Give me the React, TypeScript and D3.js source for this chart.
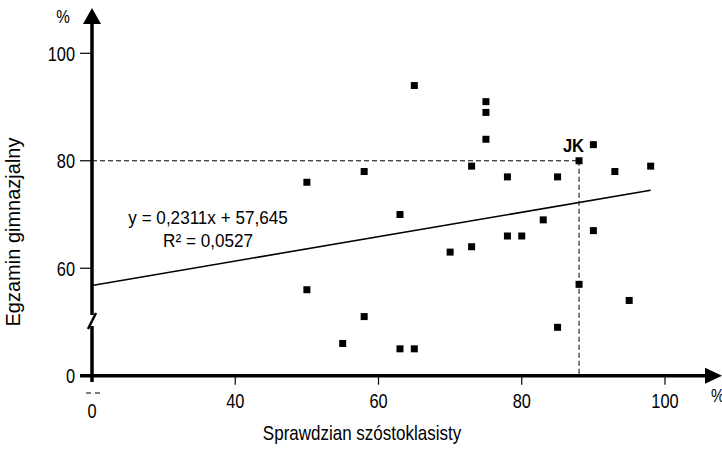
import { useEffect, useRef } from 'react';
import * as d3 from 'd3';

// scores of each student: sprawdzian (x) vs egzamin (y), in %
const sprawdzian = [50, 50, 55, 58, 58, 63, 63, 65, 65, 70, 73, 73, 75, 75, 75, 78, 78, 80, 83, 85, 85, 88, 88, 90, 90, 93, 95, 98];
const egzamin = [76, 56, 46, 78, 51, 70, 45, 45, 94, 63, 64, 79, 91, 89, 84, 77, 66, 66, 69, 77, 49, 80, 57, 83, 67, 78, 54, 79];

// broken axes: lowest value is labelled "0"
const xTicks = [20, 40, 60, 80, 100];
const xTickLabels = ['0', '40', '60', '80', '100'];
const yTicks = [40, 60, 80, 100];
const yTickLabels = ['0', '60', '80', '100'];

// trend line ends as drawn
const trendX = [20, 98];
const trendY = [56.8, 74.5];
const trendText = ['y = 0,2311x + 57,645', 'R² = 0,0527'];

// highlighted student
const jk = { name: 'JK', x: 88, y: 80 };

const FONT = '"Liberation Sans", Arial, sans-serif';

const useD3 = (renderChartFn: (svg: any) => void, deps: any[]) => {
  const ref = useRef<SVGSVGElement>(null);
  useEffect(() => {
    renderChartFn(d3.select(ref.current));
  }, deps);
  return ref;
};

function Scatter() {
  const ref = useD3((svg) => {
    svg.selectAll('*').remove();
    const x = d3.scaleLinear().domain([20, 100]).range([92, 665]);
    const y = d3.scaleLinear().domain([40, 100]).range([375.7, 53.3]);
    const x0 = x(20), y0 = y(40);

    const g = svg.append('g').style('font-family', FONT);

    // condensed text, the original uses a narrow face
    const label = (px: number, py: number, txt: string, size: number, sx: number, anchor = 'start') =>
      g.append('text')
        .attr('transform', `translate(${px},${py}) scale(${sx},1)`)
        .attr('text-anchor', anchor)
        .style('font-size', size + 'px')
        .text(txt);

    // dashed guides to JK
    g.append('line')
      .attr('x1', x0).attr('x2', x(jk.x))
      .attr('y1', y(jk.y)).attr('y2', y(jk.y))
      .attr('stroke', '#000').attr('stroke-width', 1).attr('stroke-dasharray', '5,3');
    g.append('line')
      .attr('x1', x(jk.x)).attr('x2', x(jk.x))
      .attr('y1', y(jk.y)).attr('y2', y0)
      .attr('stroke', '#000').attr('stroke-width', 1).attr('stroke-dasharray', '5,3');

    // trend line
    g.append('line')
      .attr('x1', x(trendX[0])).attr('y1', y(trendY[0]))
      .attr('x2', x(trendX[1])).attr('y2', y(trendY[1]))
      .attr('stroke', '#000').attr('stroke-width', 1.6);

    // points
    g.selectAll('rect.pt')
      .data(sprawdzian.map((v, i) => [v, egzamin[i]]))
      .join('rect')
      .attr('class', 'pt')
      .attr('x', (d: number[]) => x(d[0]) - 3.5)
      .attr('y', (d: number[]) => y(d[1]) - 3.5)
      .attr('width', 7).attr('height', 7)
      .attr('fill', '#000');

    // y axis with break
    g.append('line').attr('x1', x0).attr('x2', x0).attr('y1', 20).attr('y2', 315)
      .attr('stroke', '#000').attr('stroke-width', 3.5);
    g.append('line').attr('x1', x0).attr('x2', x0).attr('y1', 326).attr('y2', 382)
      .attr('stroke', '#000').attr('stroke-width', 3.5);
    g.append('line').attr('x1', x0 - 4).attr('x2', x0 + 4).attr('y1', 329).attr('y2', 313)
      .attr('stroke', '#000').attr('stroke-width', 2.5);
    g.append('path').attr('d', `M${x0},8L${x0 - 9},24L${x0 + 9},24Z`).attr('fill', '#000');

    // x axis
    g.append('line').attr('x1', 80).attr('x2', 712).attr('y1', y0).attr('y2', y0)
      .attr('stroke', '#000').attr('stroke-width', 3.5);
    g.append('path').attr('d', `M722,${y0}L705,${y0 - 8}L705,${y0 + 8}Z`).attr('fill', '#000');
    // x break marks under 0
    g.append('line').attr('x1', x0 - 6).attr('x2', x0 - 1).attr('y1', 393).attr('y2', 393)
      .attr('stroke', '#000').attr('stroke-width', 1);
    g.append('line').attr('x1', x0 + 3).attr('x2', x0 + 8).attr('y1', 393).attr('y2', 393)
      .attr('stroke', '#000').attr('stroke-width', 1);

    // y ticks
    g.selectAll('line.yt').data(yTicks).join('line').attr('class', 'yt')
      .attr('x1', 80).attr('x2', x0).attr('y1', (d: number) => y(d)).attr('y2', (d: number) => y(d))
      .attr('stroke', '#000').attr('stroke-width', 1.2);
    yTicks.forEach((d, i) => label(75, y(d) + 7.5, yTickLabels[i], 21, 0.78, 'end'));

    // x ticks
    g.selectAll('line.xt').data(xTicks.slice(1)).join('line').attr('class', 'xt')
      .attr('x1', (d: number) => x(d)).attr('x2', (d: number) => x(d))
      .attr('y1', y0).attr('y2', y0 + 9)
      .attr('stroke', '#000').attr('stroke-width', 1.2);
    xTicks.forEach((d, i) => label(x(d), i === 0 ? 418 : 408, xTickLabels[i], 21, 0.78, 'middle'));

    // units
    label(63, 23, '%', 18, 0.85, 'middle');
    label(711, 402, '%', 18, 0.85);

    // axis titles
    label(362, 440, 'Sprawdzian szóstoklasisty', 20, 0.85, 'middle');
    g.append('text').attr('transform', 'translate(20,232) rotate(-90)')
      .attr('text-anchor', 'middle').style('font-size', '20px').text('Egzamin gimnazjalny');

    // regression text
    trendText.forEach((t, i) => label(208, 224 + i * 23, t, 19, 0.9, 'middle'));

    // JK label
    label(x(jk.x) + 5, y(jk.y) - 9, jk.name, 18, 0.92, 'end').style('font-weight', 'bold');
  }, []);

  return (
    <svg ref={ref} width={722} height={455}
      style={{ position: 'absolute', left: 0, top: 0, background: '#fff' }} />
  );
}

export default function App() {
  return <Scatter />;
}
